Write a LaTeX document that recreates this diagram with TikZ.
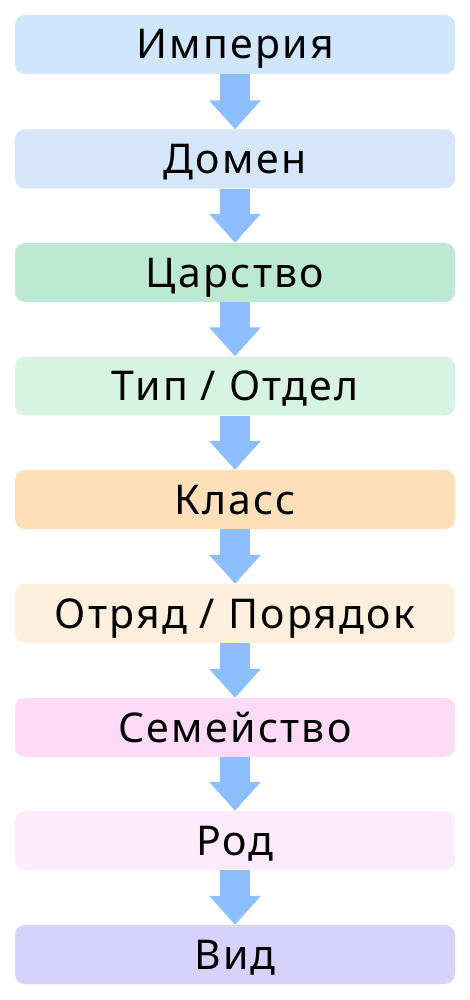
\documentclass[tikz,border=0pt]{standalone}
\usepackage{fontspec}
\setmainfont{Noto Sans}[LetterSpace=5.5]
\usetikzlibrary{arrows.meta}
\definecolor{arr}{HTML}{8DBEFE}
\definecolor{c1}{HTML}{D0E6FD}
\definecolor{c2}{HTML}{D5E5FA}
\definecolor{c3}{HTML}{BDE8D3}
\definecolor{c4}{HTML}{D6F3E3}
\definecolor{c5}{HTML}{FFDFB7}
\definecolor{c6}{HTML}{FFEFDC}
\definecolor{c7}{HTML}{FCDAF8}
\definecolor{c8}{HTML}{FDEBFB}
\definecolor{c9}{HTML}{D7D2FB}
\tikzset{
  rank/.style={rectangle, rounded corners=10pt, draw=none, minimum width=440pt, minimum height=59pt, inner sep=0pt, font=\fontsize{41}{41}\selectfont, text height=29pt, text depth=0pt},
  flow/.style={arr, line width=30pt, -{Triangle[width=50pt,length=29pt]}}
}
\begin{document}
\begin{tikzpicture}[x=1pt,y=-1pt]
\useasboundingbox (0,0) rectangle (470,1000);
\node[rank, fill=c1] (n1) at (235,44.5) {Империя};
\node[rank, fill=c2] (n2) at (235,159) {Домен};
\node[rank, fill=c3] (n3) at (235,272.5) {Царство};
\node[rank, fill=c4] (n4) at (235,386) {Тип / Отдел};
\node[rank, fill=c5] (n5) at (235,499.5) {Класс};
\node[rank, fill=c6] (n6) at (235,613.5) {Отряд / Порядок};
\node[rank, fill=c7] (n7) at (235,727.5) {Семейство};
\node[rank, fill=c8] (n8) at (235,840.5) {Род};
\node[rank, fill=c9] (n9) at (235,954.5) {Вид};
\foreach \a/\b in {n1/n2,n2/n3,n3/n4,n4/n5,n5/n6,n6/n7,n7/n8,n8/n9}
  \draw[flow] (\a.south) -- (\b.north);
\end{tikzpicture}
\end{document}
